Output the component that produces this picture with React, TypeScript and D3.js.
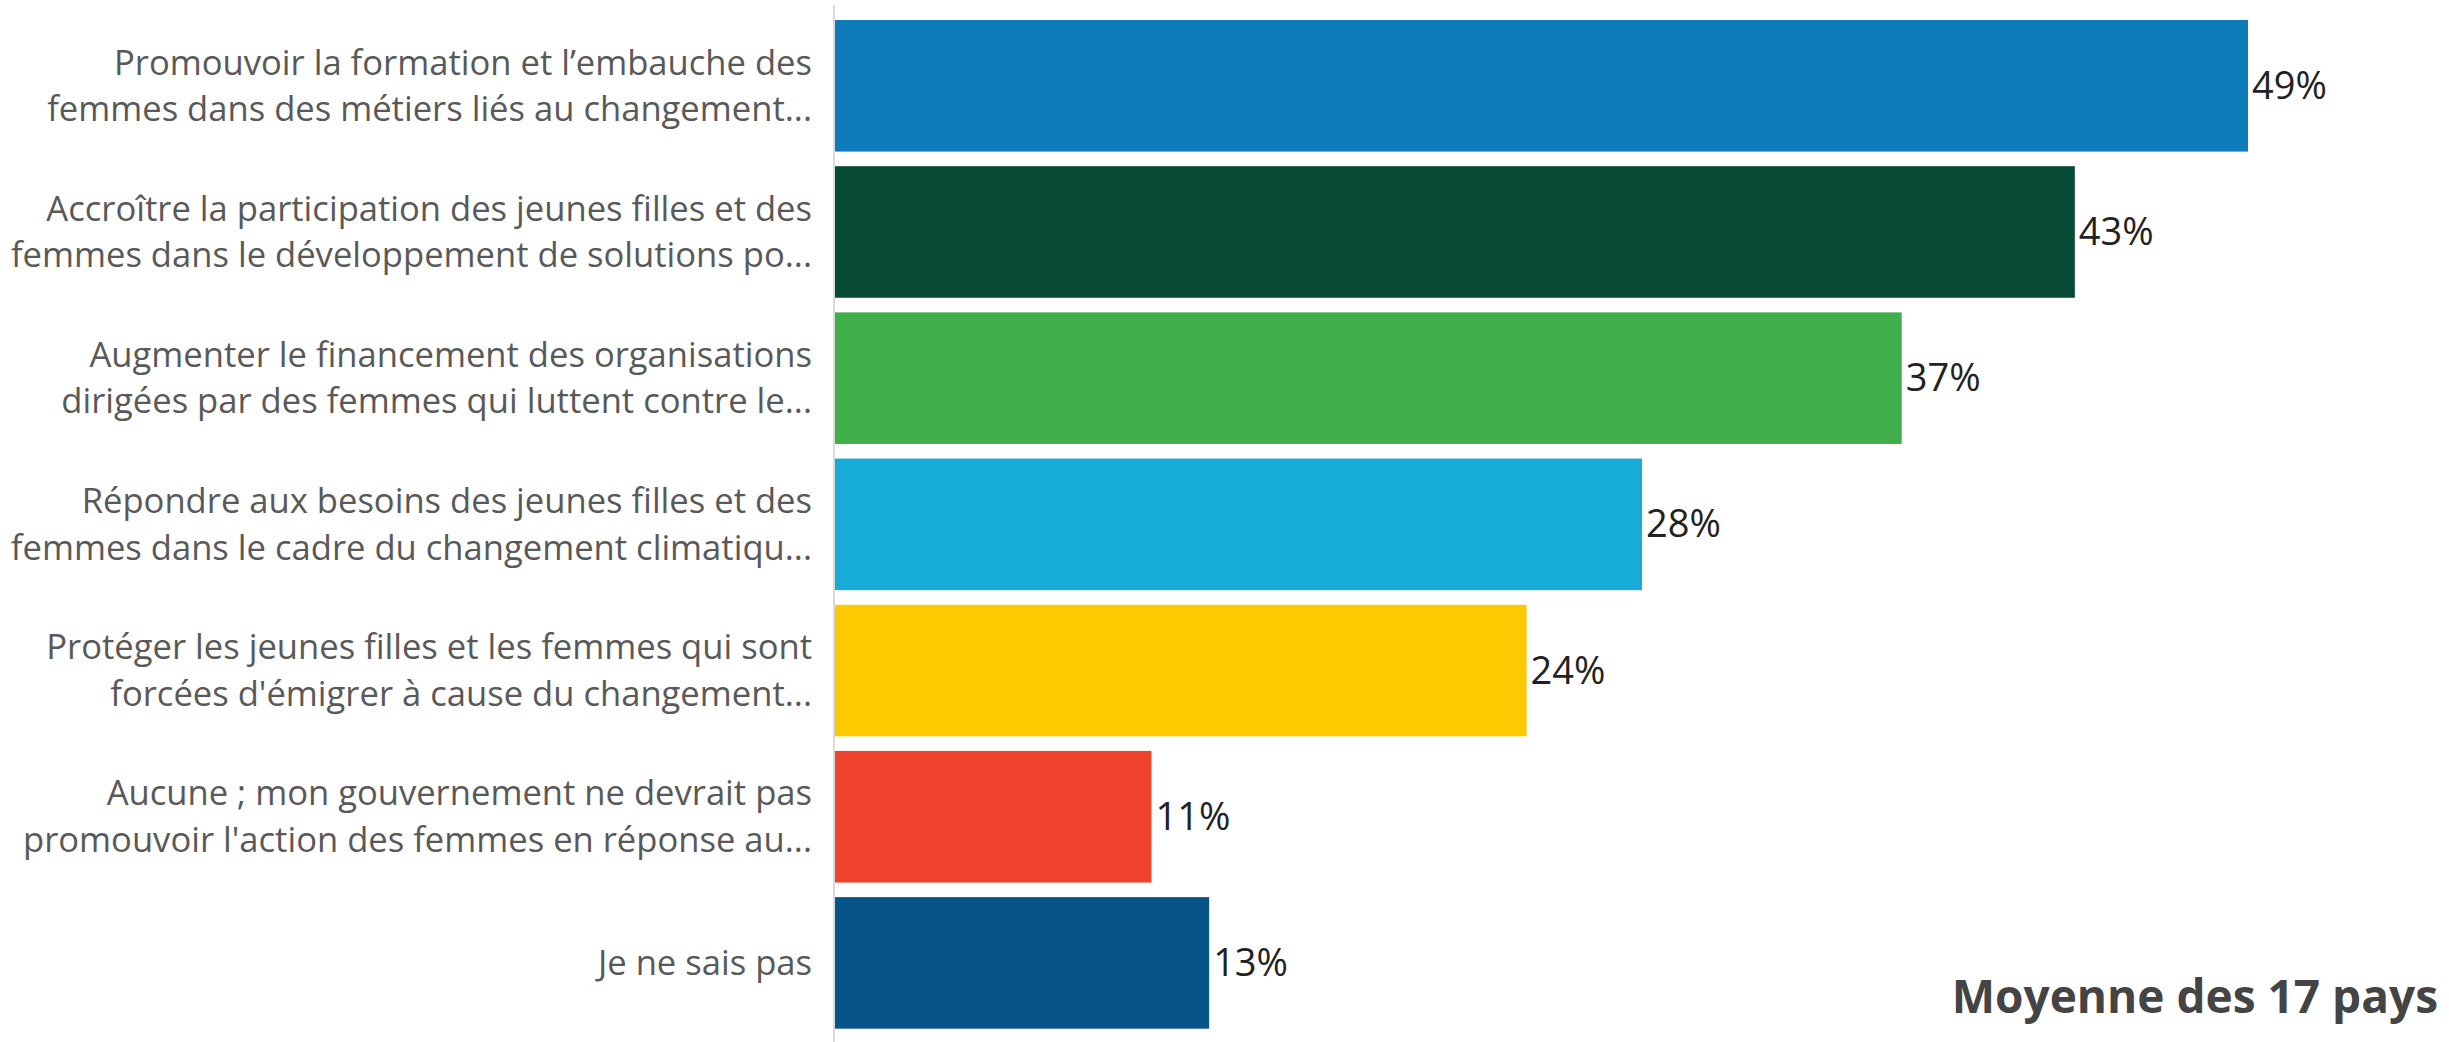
import * as React from "react";
import * as d3 from "d3";

// categories (each split into lines as shown), values in %, bar colours
const categories: string[][] = [
  ["Promouvoir la formation et l\u2019embauche des", "femmes dans des métiers liés au changement..."],
  ["Accroître la participation des jeunes filles et des", "femmes dans le développement de solutions po..."],
  ["Augmenter le financement des organisations", "dirigées par des femmes qui luttent contre le..."],
  ["Répondre aux besoins des jeunes filles et des", "femmes dans le cadre du changement climatiqu..."],
  ["Protéger les jeunes filles et les femmes qui sont", "forcées d'émigrer à cause du changement..."],
  ["Aucune ; mon gouvernement ne devrait pas", "promouvoir l'action des femmes en réponse au..."],
  ["Je ne sais pas"],
];
const values: number[] = [49, 43, 37, 28, 24, 11, 13];
const colors: string[] = ["#0e7bbb", "#064a35", "#40ae4a", "#17acd8", "#fec900", "#ef412b", "#06548a"];
const title = "Moyenne des 17 pays";

const W = 2449;
const H = 1042;
const axisX = 834;

export default function App() {
  const x = d3.scaleLinear().domain([0, 49]).range([axisX, 2248]);
  const y = d3
    .scaleBand<number>()
    .domain(d3.range(values.length))
    .range([12.7, 1036])
    .paddingInner(0.1)
    .paddingOuter(0.05);

  const lineH = 46.5;

  return (
    <svg
      width={W}
      height={H}
      style={{ position: "absolute", left: 0, top: 0, background: "#fff" }}
      fontFamily="'Open Sans', sans-serif"
    >
      {values.map((v, i) => {
        const cy = (y(i) as number) + y.bandwidth() / 2;
        const lines = categories[i];
        return (
          <g key={i}>
            <rect
              x={x(0)}
              y={y(i)}
              width={x(v) - x(0)}
              height={y.bandwidth()}
              fill={colors[i]}
            />
            <text x={x(v) + 4} y={cy + 13} fontSize={38} fill="#222">
              {v + "%"}
            </text>
            {lines.map((l, j) => (
              <text
                key={j}
                x={812}
                y={cy + 12 + (j - (lines.length - 1) / 2) * lineH}
                fontSize={34.6}
                fill="#595959"
                textAnchor="end"
              >
                {l}
              </text>
            ))}
          </g>
        );
      })}
      <line x1={axisX} x2={axisX} y1={5} y2={H} stroke="#dadada" strokeWidth={2} />
      <text x={2438} y={1013} fontSize={46} fontWeight="bold" fill="#444" textAnchor="end">
        {title}
      </text>
    </svg>
  );
}
